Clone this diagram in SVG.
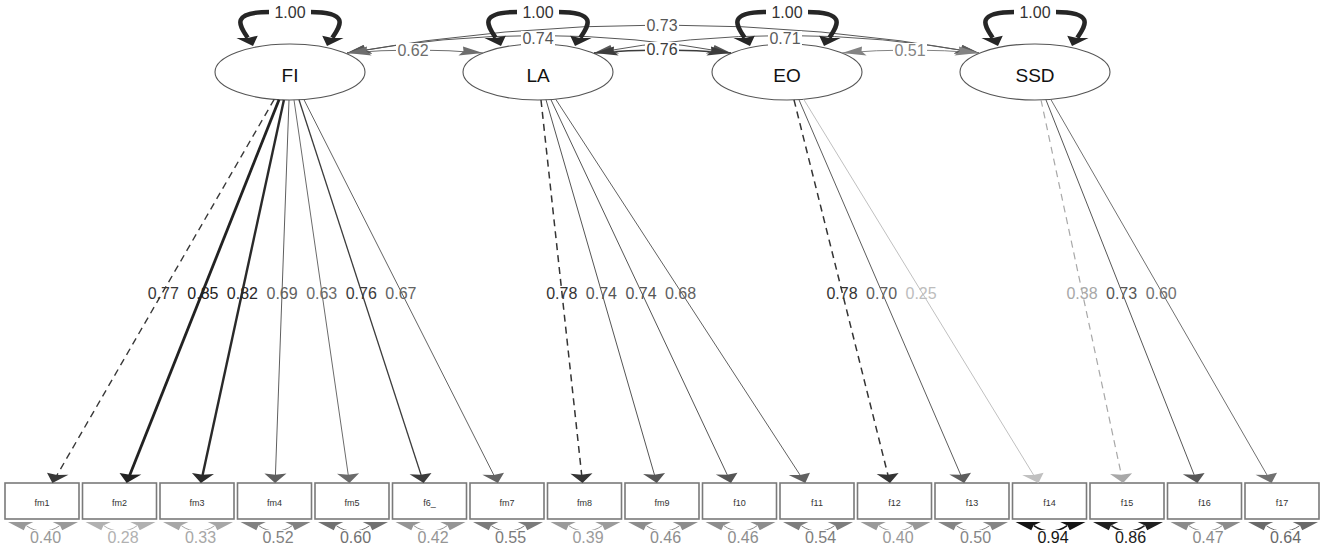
<svg xmlns="http://www.w3.org/2000/svg" width="1325" height="548" viewBox="0 0 1325 548">
<style>
text { font-family: "Liberation Sans", Arial, sans-serif; }
.lat { fill: #fff; stroke: #555; stroke-width: 1.1; }
.man { fill: #fff; stroke: #7a7a7a; stroke-width: 1.6; }
.ll { font-size: 19px; fill: #111; text-anchor: middle; }
.ml { font-size: 9px; fill: #333; text-anchor: middle; }
.el { font-size: 16px; text-anchor: middle; }
.bg { fill: #fff; }
.e { fill: none; }
.loop { fill: none; stroke: #262626; stroke-width: 4.5; }
.dash { stroke-dasharray: 7 5; }
</style>
<defs>
<path id="ah" d="M0,0 L-9.5,-4.6 L-8.3,0 L-9.5,4.6 Z"/>
</defs>
<rect width="1325" height="548" fill="#fff"/>

<g id="node-FI"><ellipse class="lat" cx="290" cy="72" rx="75" ry="28"/><text class="ll" x="290" y="81.8">FI</text></g>
<g id="node-LA"><ellipse class="lat" cx="538" cy="72" rx="75" ry="28"/><text class="ll" x="538" y="81.8">LA</text></g>
<g id="node-EO"><ellipse class="lat" cx="787" cy="72" rx="75" ry="28"/><text class="ll" x="787" y="81.8">EO</text></g>
<g id="node-SSD"><ellipse class="lat" cx="1035" cy="72" rx="75" ry="28"/><text class="ll" x="1035" y="81.8">SSD</text></g>

<g id="node-fm1"><rect class="man" x="5" y="483" width="74" height="36"/><text class="ml" x="42" y="506">fm1</text></g>
<g id="node-fm2"><rect class="man" x="82.5" y="483" width="74" height="36"/><text class="ml" x="119.5" y="506">fm2</text></g>
<g id="node-fm3"><rect class="man" x="160" y="483" width="74" height="36"/><text class="ml" x="197" y="506">fm3</text></g>
<g id="node-fm4"><rect class="man" x="237.5" y="483" width="74" height="36"/><text class="ml" x="274.5" y="506">fm4</text></g>
<g id="node-fm5"><rect class="man" x="315" y="483" width="74" height="36"/><text class="ml" x="352" y="506">fm5</text></g>
<g id="node-f6_"><rect class="man" x="392.5" y="483" width="74" height="36"/><text class="ml" x="429.5" y="506">f6_</text></g>
<g id="node-fm7"><rect class="man" x="470" y="483" width="74" height="36"/><text class="ml" x="507" y="506">fm7</text></g>
<g id="node-fm8"><rect class="man" x="547.5" y="483" width="74" height="36"/><text class="ml" x="584.5" y="506">fm8</text></g>
<g id="node-fm9"><rect class="man" x="625" y="483" width="74" height="36"/><text class="ml" x="662" y="506">fm9</text></g>
<g id="node-f10"><rect class="man" x="702.5" y="483" width="74" height="36"/><text class="ml" x="739.5" y="506">f10</text></g>
<g id="node-f11"><rect class="man" x="780" y="483" width="74" height="36"/><text class="ml" x="817" y="506">f11</text></g>
<g id="node-f12"><rect class="man" x="857.5" y="483" width="74" height="36"/><text class="ml" x="894.5" y="506">f12</text></g>
<g id="node-f13"><rect class="man" x="935" y="483" width="74" height="36"/><text class="ml" x="972" y="506">f13</text></g>
<g id="node-f14"><rect class="man" x="1012.5" y="483" width="74" height="36"/><text class="ml" x="1049.5" y="506">f14</text></g>
<g id="node-f15"><rect class="man" x="1090" y="483" width="74" height="36"/><text class="ml" x="1127" y="506">f15</text></g>
<g id="node-f16"><rect class="man" x="1167.5" y="483" width="74" height="36"/><text class="ml" x="1204.5" y="506">f16</text></g>
<g id="node-f17"><rect class="man" x="1245" y="483" width="74" height="36"/><text class="ml" x="1282" y="506">f17</text></g>

<g id="connectors">
 <g id="covariances">
  <path class="e" d="M347,53 Q663,-3 979,53" stroke="#575757"/>
  <path class="e" d="M347,53 Q539,18 731,53" stroke="#555"/>
  <path class="e" d="M594,53 Q786.5,18 979,53" stroke="#5b5b5b"/>
  <path class="e" d="M347,53 Q415,47 483,53" stroke="#6d6d6d"/>
  <path class="e" d="M594,53 Q662.5,47 731,53" stroke="#3c3c3c" stroke-width="1.3"/>
  <path class="e" d="M842,53 Q910.5,47 979,53" stroke="#838383"/>
  <use href="#ah" transform="translate(347,53) scale(2.4,1) rotate(157)" fill="#575757"/>
  <use href="#ah" transform="translate(979,53) scale(2.4,1) rotate(23)" fill="#575757"/>
  <use href="#ah" transform="translate(347,53) scale(2.4,1) rotate(156.4)" fill="#555"/>
  <use href="#ah" transform="translate(731,53) scale(2.4,1) rotate(23.6)" fill="#555"/>
  <use href="#ah" transform="translate(594,53) scale(2.4,1) rotate(156.4)" fill="#5b5b5b"/>
  <use href="#ah" transform="translate(979,53) scale(2.4,1) rotate(23.6)" fill="#5b5b5b"/>
  <use href="#ah" transform="translate(347,53) scale(2.4,1) rotate(168)" fill="#6d6d6d"/>
  <use href="#ah" transform="translate(483,53) scale(2.4,1) rotate(12)" fill="#6d6d6d"/>
  <use href="#ah" transform="translate(594,53) scale(2.4,1) rotate(168.1)" fill="#3c3c3c"/>
  <use href="#ah" transform="translate(731,53) scale(2.4,1) rotate(11.9)" fill="#3c3c3c"/>
  <use href="#ah" transform="translate(842,53) scale(2.4,1) rotate(168.1)" fill="#838383"/>
  <use href="#ah" transform="translate(979,53) scale(2.4,1) rotate(11.9)" fill="#838383"/>
 </g>
 <g id="variances-latent">
  <path class="loop" d="M247.7,37.8 C240.8,27.1 228,12 270,12 L310,12 C352,12 339.2,27.1 332.3,37.8"/>
  <path class="loop" d="M495.7,37.8 C488.8,27.1 476,12 518,12 L558,12 C600,12 587.2,27.1 580.3,37.8"/>
  <path class="loop" d="M744.7,37.8 C737.8,27.1 725,12 767,12 L807,12 C849,12 836.2,27.1 829.3,37.8"/>
  <path class="loop" d="M992.7,37.8 C985.8,27.1 973,12 1015,12 L1055,12 C1097,12 1084.2,27.1 1077.3,37.8"/>
  <g fill="#262626">
   <use href="#ah" transform="translate(253,46) scale(2.4,1) rotate(75)"/>
   <use href="#ah" transform="translate(327,46) scale(2.4,1) rotate(105)"/>
   <use href="#ah" transform="translate(501,46) scale(2.4,1) rotate(75)"/>
   <use href="#ah" transform="translate(575,46) scale(2.4,1) rotate(105)"/>
   <use href="#ah" transform="translate(750,46) scale(2.4,1) rotate(75)"/>
   <use href="#ah" transform="translate(824,46) scale(2.4,1) rotate(105)"/>
   <use href="#ah" transform="translate(998,46) scale(2.4,1) rotate(75)"/>
   <use href="#ah" transform="translate(1072,46) scale(2.4,1) rotate(105)"/>
  </g>
 </g>
 <g id="loadings">
  <path class="e dash" d="M274.2,99.4 L56.5,476" stroke="#383838" stroke-width="1.4"/>
  <use href="#ah" transform="translate(52.4,483) scale(2.4,1) rotate(103.5)" fill="#383838"/>
  <path class="e" d="M279,99.7 L129.4,476" stroke="#222" stroke-width="2.8"/>
  <use href="#ah" transform="translate(126.7,483) scale(2.4,1) rotate(99.4)" fill="#222"/>
  <path class="e" d="M283.9,99.9 L202.4,476" stroke="#2a2a2a" stroke-width="2.4"/>
  <use href="#ah" transform="translate(200.9,483) scale(2.4,1) rotate(95.2)" fill="#2a2a2a"/>
  <path class="e" d="M289,100 L275.4,476" stroke="#5f5f5f"/>
  <use href="#ah" transform="translate(275.1,483) scale(2.4,1) rotate(90.9)" fill="#5f5f5f"/>
  <path class="e" d="M294,99.9 L348.4,476" stroke="#6b6b6b"/>
  <use href="#ah" transform="translate(349.4,483) scale(2.4,1) rotate(86.6)" fill="#6b6b6b"/>
  <path class="e" d="M299,99.8 L421.4,476" stroke="#3c3c3c" stroke-width="1.3"/>
  <use href="#ah" transform="translate(423.6,483) scale(2.4,1) rotate(82.3)" fill="#3c3c3c"/>
  <path class="e" d="M303.9,99.5 L494.3,476" stroke="#636363"/>
  <use href="#ah" transform="translate(497.9,483) scale(2.4,1) rotate(78.1)" fill="#636363"/>
  <path class="e dash" d="M541,100 L581.8,476" stroke="#343434" stroke-width="1.5"/>
  <use href="#ah" transform="translate(582.5,483) scale(2.4,1) rotate(87.4)" fill="#343434"/>
  <path class="e" d="M546,99.8 L654.8,476" stroke="#555"/>
  <use href="#ah" transform="translate(656.8,483) scale(2.4,1) rotate(83.1)" fill="#555"/>
  <path class="e" d="M550.9,99.6 L727.8,476" stroke="#555"/>
  <use href="#ah" transform="translate(731,483) scale(2.4,1) rotate(78.9)" fill="#555"/>
  <path class="e" d="M555.7,99.2 L800.7,476" stroke="#616161"/>
  <use href="#ah" transform="translate(805.3,483) scale(2.4,1) rotate(74.8)" fill="#616161"/>
  <path class="e dash" d="M794,99.9 L888.2,476" stroke="#343434" stroke-width="1.5"/>
  <use href="#ah" transform="translate(890,483) scale(2.4,1) rotate(84)" fill="#343434"/>
  <path class="e" d="M798.9,99.6 L961.2,476" stroke="#5d5d5d"/>
  <use href="#ah" transform="translate(964.2,483) scale(2.4,1) rotate(79.8)" fill="#5d5d5d"/>
  <path class="e" d="M803.7,99.3 L1034.2,476" stroke="#c0c0c0"/>
  <use href="#ah" transform="translate(1038.5,483) scale(2.4,1) rotate(75.7)" fill="#c0c0c0"/>
  <path class="e dash" d="M1041,99.9 L1121.6,476" stroke="#a8a8a8" stroke-width="1.2"/>
  <use href="#ah" transform="translate(1123.1,483) scale(2.4,1) rotate(84.9)" fill="#a8a8a8"/>
  <path class="e" d="M1045.9,99.7 L1194.6,476" stroke="#575757"/>
  <use href="#ah" transform="translate(1197.4,483) scale(2.4,1) rotate(80.7)" fill="#575757"/>
  <path class="e" d="M1050.8,99.4 L1267.6,476" stroke="#717171"/>
  <use href="#ah" transform="translate(1271.6,483) scale(2.4,1) rotate(76.5)" fill="#717171"/>
 </g>
 <g id="residuals">
  <g stroke="#999" fill="#999"><path class="e" d="M26.4,525.7 C36,533 50,533 59.6,525.7"/><use href="#ah" stroke="none" transform="translate(8,522) scale(2.4,1) rotate(205.6)"/><use href="#ah" stroke="none" transform="translate(78,522) scale(2.4,1) rotate(-25.6)"/></g>
  <g stroke="#b1b1b1" fill="#b1b1b1"><path class="e" d="M103.9,525.7 C113.5,533 127.5,533 137.1,525.7"/><use href="#ah" stroke="none" transform="translate(85.5,522) scale(2.4,1) rotate(205.6)"/><use href="#ah" stroke="none" transform="translate(155.5,522) scale(2.4,1) rotate(-25.6)"/></g>
  <g stroke="#a7a7a7" fill="#a7a7a7"><path class="e" d="M181.4,525.7 C191,533 205,533 214.6,525.7"/><use href="#ah" stroke="none" transform="translate(163,522) scale(2.4,1) rotate(205.6)"/><use href="#ah" stroke="none" transform="translate(233,522) scale(2.4,1) rotate(-25.6)"/></g>
  <g stroke="#818181" fill="#818181"><path class="e" d="M258.9,525.7 C268.5,533 282.5,533 292.1,525.7"/><use href="#ah" stroke="none" transform="translate(240.5,522) scale(2.4,1) rotate(205.6)"/><use href="#ah" stroke="none" transform="translate(310.5,522) scale(2.4,1) rotate(-25.6)"/></g>
  <g stroke="#717171" fill="#717171"><path class="e" d="M336.4,525.7 C346,533 360,533 369.6,525.7"/><use href="#ah" stroke="none" transform="translate(318,522) scale(2.4,1) rotate(205.6)"/><use href="#ah" stroke="none" transform="translate(388,522) scale(2.4,1) rotate(-25.6)"/></g>
  <g stroke="#959595" fill="#959595"><path class="e" d="M413.9,525.7 C423.5,533 437.5,533 447.1,525.7"/><use href="#ah" stroke="none" transform="translate(395.5,522) scale(2.4,1) rotate(205.6)"/><use href="#ah" stroke="none" transform="translate(465.5,522) scale(2.4,1) rotate(-25.6)"/></g>
  <g stroke="#7b7b7b" fill="#7b7b7b"><path class="e" d="M491.4,525.7 C501,533 515,533 524.6,525.7"/><use href="#ah" stroke="none" transform="translate(473,522) scale(2.4,1) rotate(205.6)"/><use href="#ah" stroke="none" transform="translate(543,522) scale(2.4,1) rotate(-25.6)"/></g>
  <g stroke="#9b9b9b" fill="#9b9b9b"><path class="e" d="M568.9,525.7 C578.5,533 592.5,533 602.1,525.7"/><use href="#ah" stroke="none" transform="translate(550.5,522) scale(2.4,1) rotate(205.6)"/><use href="#ah" stroke="none" transform="translate(620.5,522) scale(2.4,1) rotate(-25.6)"/></g>
  <g stroke="#8d8d8d" fill="#8d8d8d"><path class="e" d="M646.4,525.7 C656,533 670,533 679.6,525.7"/><use href="#ah" stroke="none" transform="translate(628,522) scale(2.4,1) rotate(205.6)"/><use href="#ah" stroke="none" transform="translate(698,522) scale(2.4,1) rotate(-25.6)"/></g>
  <g stroke="#8d8d8d" fill="#8d8d8d"><path class="e" d="M723.9,525.7 C733.5,533 747.5,533 757.1,525.7"/><use href="#ah" stroke="none" transform="translate(705.5,522) scale(2.4,1) rotate(205.6)"/><use href="#ah" stroke="none" transform="translate(775.5,522) scale(2.4,1) rotate(-25.6)"/></g>
  <g stroke="#7d7d7d" fill="#7d7d7d"><path class="e" d="M801.4,525.7 C811,533 825,533 834.6,525.7"/><use href="#ah" stroke="none" transform="translate(783,522) scale(2.4,1) rotate(205.6)"/><use href="#ah" stroke="none" transform="translate(853,522) scale(2.4,1) rotate(-25.6)"/></g>
  <g stroke="#999" fill="#999"><path class="e" d="M878.9,525.7 C888.5,533 902.5,533 912.1,525.7"/><use href="#ah" stroke="none" transform="translate(860.5,522) scale(2.4,1) rotate(205.6)"/><use href="#ah" stroke="none" transform="translate(930.5,522) scale(2.4,1) rotate(-25.6)"/></g>
  <g stroke="#858585" fill="#858585"><path class="e" d="M956.4,525.7 C966,533 980,533 989.6,525.7"/><use href="#ah" stroke="none" transform="translate(938,522) scale(2.4,1) rotate(205.6)"/><use href="#ah" stroke="none" transform="translate(1008,522) scale(2.4,1) rotate(-25.6)"/></g>
  <g stroke="#141414" fill="#141414"><path class="e" d="M1033.9,525.7 C1043.5,533 1057.5,533 1067.1,525.7" stroke-width="1.5"/><use href="#ah" stroke="none" transform="translate(1015.5,522) scale(2.4,1) rotate(205.6)"/><use href="#ah" stroke="none" transform="translate(1085.5,522) scale(2.4,1) rotate(-25.6)"/></g>
  <g stroke="#202020" fill="#202020"><path class="e" d="M1111.4,525.7 C1121,533 1135,533 1144.6,525.7" stroke-width="1.5"/><use href="#ah" stroke="none" transform="translate(1093,522) scale(2.4,1) rotate(205.6)"/><use href="#ah" stroke="none" transform="translate(1163,522) scale(2.4,1) rotate(-25.6)"/></g>
  <g stroke="#8b8b8b" fill="#8b8b8b"><path class="e" d="M1188.9,525.7 C1198.5,533 1212.5,533 1222.1,525.7"/><use href="#ah" stroke="none" transform="translate(1170.5,522) scale(2.4,1) rotate(205.6)"/><use href="#ah" stroke="none" transform="translate(1240.5,522) scale(2.4,1) rotate(-25.6)"/></g>
  <g stroke="#696969" fill="#696969"><path class="e" d="M1266.4,525.7 C1276,533 1290,533 1299.6,525.7"/><use href="#ah" stroke="none" transform="translate(1248,522) scale(2.4,1) rotate(205.6)"/><use href="#ah" stroke="none" transform="translate(1318,522) scale(2.4,1) rotate(-25.6)"/></g>
 </g>
 <g id="edge-labels">
  <rect class="bg" x="269" y="5" width="42" height="15"/><text class="el" x="290" y="17.8" fill="#333">1.00</text>
  <rect class="bg" x="517" y="5" width="42" height="15"/><text class="el" x="538" y="17.8" fill="#333">1.00</text>
  <rect class="bg" x="766" y="5" width="42" height="15"/><text class="el" x="787" y="17.8" fill="#333">1.00</text>
  <rect class="bg" x="1014" y="5" width="42" height="15"/><text class="el" x="1035" y="17.8" fill="#333">1.00</text>
  <rect class="bg" x="396" y="43" width="34" height="15"/><text class="el" x="413" y="55.8" fill="#6d6d6d">0.62</text>
  <rect class="bg" x="521" y="31" width="34" height="15"/><text class="el" x="538" y="43.8" fill="#555">0.74</text>
  <rect class="bg" x="645" y="18" width="34" height="15"/><text class="el" x="662" y="30.8" fill="#575757">0.73</text>
  <rect class="bg" x="645" y="42" width="34" height="15"/><text class="el" x="662" y="54.8" fill="#3c3c3c">0.76</text>
  <rect class="bg" x="768" y="31" width="34" height="15"/><text class="el" x="785" y="43.8" fill="#5b5b5b">0.71</text>
  <rect class="bg" x="893" y="43" width="34" height="15"/><text class="el" x="910" y="55.8" fill="#838383">0.51</text>

  <text class="el" x="163.3" y="299" fill="#383838">0.77</text>
  <text class="el" x="202.9" y="299" fill="#222">0.85</text>
  <text class="el" x="242.4" y="299" fill="#2a2a2a">0.82</text>
  <text class="el" x="282.1" y="299" fill="#5f5f5f">0.69</text>
  <text class="el" x="321.7" y="299" fill="#6b6b6b">0.63</text>
  <text class="el" x="361.3" y="299" fill="#3c3c3c">0.76</text>
  <text class="el" x="400.9" y="299" fill="#636363">0.67</text>
  <text class="el" x="561.8" y="299" fill="#343434">0.78</text>
  <text class="el" x="601.4" y="299" fill="#555">0.74</text>
  <text class="el" x="641" y="299" fill="#555">0.74</text>
  <text class="el" x="680.5" y="299" fill="#616161">0.68</text>
  <text class="el" x="842" y="299" fill="#343434">0.78</text>
  <text class="el" x="881.6" y="299" fill="#5d5d5d">0.70</text>
  <text class="el" x="921.1" y="299" fill="#bdbdbd">0.25</text>
  <text class="el" x="1082" y="299" fill="#a8a8a8">0.38</text>
  <text class="el" x="1121.6" y="299" fill="#575757">0.73</text>
  <text class="el" x="1161.2" y="299" fill="#717171">0.60</text>

  <rect class="bg" x="28.5" y="530" width="34" height="15"/><text class="el" x="45.5" y="543" fill="#999">0.40</text>
  <rect class="bg" x="106" y="530" width="34" height="15"/><text class="el" x="123" y="543" fill="#b1b1b1">0.28</text>
  <rect class="bg" x="183.5" y="530" width="34" height="15"/><text class="el" x="200.5" y="543" fill="#a7a7a7">0.33</text>
  <rect class="bg" x="261" y="530" width="34" height="15"/><text class="el" x="278" y="543" fill="#818181">0.52</text>
  <rect class="bg" x="338.5" y="530" width="34" height="15"/><text class="el" x="355.5" y="543" fill="#717171">0.60</text>
  <rect class="bg" x="416" y="530" width="34" height="15"/><text class="el" x="433" y="543" fill="#959595">0.42</text>
  <rect class="bg" x="493.5" y="530" width="34" height="15"/><text class="el" x="510.5" y="543" fill="#7b7b7b">0.55</text>
  <rect class="bg" x="571" y="530" width="34" height="15"/><text class="el" x="588" y="543" fill="#9b9b9b">0.39</text>
  <rect class="bg" x="648.5" y="530" width="34" height="15"/><text class="el" x="665.5" y="543" fill="#8d8d8d">0.46</text>
  <rect class="bg" x="726" y="530" width="34" height="15"/><text class="el" x="743" y="543" fill="#8d8d8d">0.46</text>
  <rect class="bg" x="803.5" y="530" width="34" height="15"/><text class="el" x="820.5" y="543" fill="#7d7d7d">0.54</text>
  <rect class="bg" x="881" y="530" width="34" height="15"/><text class="el" x="898" y="543" fill="#999">0.40</text>
  <rect class="bg" x="958.5" y="530" width="34" height="15"/><text class="el" x="975.5" y="543" fill="#858585">0.50</text>
  <rect class="bg" x="1036" y="530" width="34" height="15"/><text class="el" x="1053" y="543" fill="#141414">0.94</text>
  <rect class="bg" x="1113.5" y="530" width="34" height="15"/><text class="el" x="1130.5" y="543" fill="#202020">0.86</text>
  <rect class="bg" x="1191" y="530" width="34" height="15"/><text class="el" x="1208" y="543" fill="#8b8b8b">0.47</text>
  <rect class="bg" x="1268.5" y="530" width="34" height="15"/><text class="el" x="1285.5" y="543" fill="#696969">0.64</text>
 </g>
</g>
</svg>
